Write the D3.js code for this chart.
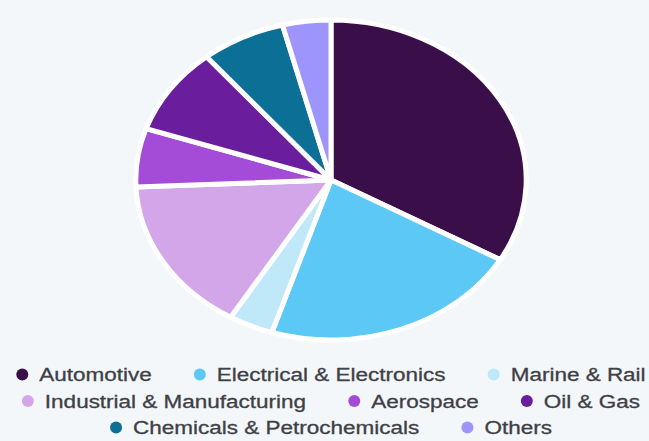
<!DOCTYPE html>
<html><head><meta charset="utf-8">
<script src="https://cdn.jsdelivr.net/npm/d3@7"></script>
<style>html,body{margin:0;padding:0;background:#f3f7fa;} svg{display:block}</style>
</head><body><svg id="c" width="649" height="441"></svg>
<script>
const categories = ["Automotive", "Electrical & Electronics", "Marine & Rail", "Industrial & Manufacturing", "Aerospace", "Oil & Gas", "Chemicals & Petrochemicals", "Others"];
const values = [33.3, 21.6, 3.7, 15.7, 5.9, 8.8, 7.0, 4.0];
const colors = ["#3a0f49", "#5bc8f5", "#bfe8f8", "#d3a6ea", "#a44bd7", "#6a1e9d", "#0c6f95", "#9d95fb"];
const legendRows = [[0, 1, 2], [3, 4, 5], [6, 7]];

const W = 649, H = 441, sx = 1.22, tsx = 1.25;
const svg = d3.select('#c');
svg.append('rect').attr('width', W).attr('height', H).attr('fill', '#f3f7fa');

const data = categories.map((c, i) => ({name: c, v: values[i]}));
const color = d3.scaleOrdinal().domain(categories).range(colors);
const cx = 331, cy = 180, r = 160;
const pie = d3.pie().sort(null).value(d => d.v);
const arc = d3.arc().innerRadius(0).outerRadius(r);
const g = svg.append('g').attr('transform', `translate(${cx},${cy}) scale(${sx},1)`);
g.selectAll('path').data(pie(data)).join('path')
  .attr('d', arc)
  .attr('fill', d => color(d.data.name))
  .attr('stroke', '#ffffff')
  .attr('stroke-width', 5)
  .attr('stroke-linejoin', 'round')
  .attr('vector-effect', 'non-scaling-stroke');

// Legend
const rowY = [374.5, 401, 427.5];
const fontSize = 18, gapCircleText = 17, itemGap = 42, cr = 6;
const lg = svg.append('g');
legendRows.forEach((row, ri) => {
  const items = row.map(i => {
    const it = lg.append('g');
    it.append('circle').attr('r', cr).attr('fill', colors[i]);
    const t = it.append('text')
      .attr('font-family', '"Liberation Sans", Arial, sans-serif')
      .attr('font-size', fontSize)
      .attr('fill', '#3f3f46')
      .attr('stroke', '#3f3f46')
      .attr('stroke-width', 0.3)
      .attr('dominant-baseline', 'central')
      .text(categories[i]);
    const tw = t.node().getComputedTextLength() * tsx;
    return {it, t, w: cr + gapCircleText + tw};
  });
  const total = d3.sum(items, d => d.w) + itemGap * (items.length - 1);
  let x = cx - total / 2;
  items.forEach(d => {
    const ccx = x + cr;
    d.it.select('circle').attr('cx', ccx).attr('cy', rowY[ri]);
    d.t.attr('transform', `translate(${ccx + gapCircleText},${rowY[ri] + 0.5}) scale(${tsx},1)`);
    x += d.w + itemGap;
  });
});
</script></body></html>
